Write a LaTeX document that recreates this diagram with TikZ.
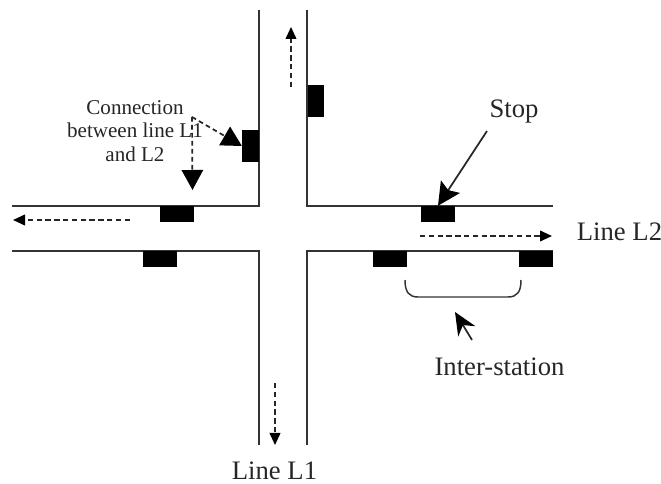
\documentclass[tikz,border=0pt]{standalone}
\usepackage{fontspec}
\setmainfont{Liberation Serif}
\usetikzlibrary{arrows.meta}
\tikzset{
  road/.style={draw=black!80,line width=1.5pt},
  stopbox/.style={fill=black,draw=none,inner sep=0pt,minimum width=25.5pt,minimum height=12pt},
  vstopbox/.style={fill=black,draw=none,inner sep=0pt,minimum width=12.5pt,minimum height=24pt},
  flow/.style={draw=black!85,line width=1.3pt,dash pattern=on 4pt off 2.6pt,-{Triangle[length=9pt,width=8pt,color=black]}},
  bigarrow/.style={draw=black!85,line width=1.3pt,-{Stealth[length=17pt,width=17pt,inset=3pt,color=black]}},
  pointer/.style={draw=black!85,line width=1.3pt,-{Stealth[length=17pt,width=15pt,color=black]}},
  linkdash/.style={draw=black!85,line width=1.3pt,dash pattern=on 3.5pt off 2.5pt,-{Triangle[length=15pt,width=16pt,color=black]}},
  lbl/.style={inner sep=0pt,font=\fontsize{20}{22}\selectfont,text=black!85},
  smalllbl/.style={inner sep=0pt,align=center,font=\fontsize{15.8}{17.6}\selectfont,text=black!85}
}
\begin{document}
\begin{tikzpicture}[x=0.75pt,y=-0.75pt]
\useasboundingbox (0,0) rectangle (661,484);
% roads
\draw[road] (259,10) -- (259,206) -- (12,206);
\draw[road] (307,10) -- (307,206) -- (553,206);
\draw[road] (12,251) -- (259,251) -- (259,445);
\draw[road] (553,251) -- (307,251) -- (307,445);
% stops
\node[stopbox] (s1) at (177,214) {};
\node[stopbox] (s2) at (160,259) {};
\node[stopbox] (s3) at (389.5,259) {};
\node[stopbox] (s4) at (438,214) {};
\node[stopbox] (s5) at (536,259) {};
\node[vstopbox] (v1) at (250.5,146) {};
\node[vstopbox] (v2) at (316,101.5) {};
% labels
\node[lbl] (stoplbl) at (514,112) {Stop};
\node[lbl] (l2) at (619.5,232) {Line L2};
\node[lbl] (l1) at (274.5,471) {Line L1};
\node[lbl] (inter) at (499.5,367) {Inter-station};
\node[smalllbl] (conn) at (135,131) {Connection\\between line L1\\and L2};
% flow directions
\coordinate (upA) at (291,87); \coordinate (upB) at (291,27);
\coordinate (dnA) at (275,383); \coordinate (dnB) at (275,445);
\coordinate (lfA) at (130,220); \coordinate (lfB) at (13,220);
\coordinate (rtA) at (420,236); \coordinate (rtB) at (552,236);
\draw[flow] (upA) -- (upB);
\draw[flow] (dnA) -- (dnB);
\draw[flow] (lfA) -- (lfB);
\draw[flow] (rtA) -- (rtB);
% callouts
\coordinate (stopA) at (487,131);
\draw[bigarrow] (stopA) -- (s4.north);
\coordinate (isA) at (472,340); \coordinate (isB) at (455,312);
\draw[pointer] (isA) -- (isB);
\coordinate (link) at (192,117);
\coordinate (linkEnd) at (192.5,190);
\draw[linkdash] (link) -- (v1.west);
\draw[linkdash] (link) -- (linkEnd);
% inter-station brace
\coordinate (brA) at (405,280); \coordinate (brB) at (521,280);
\draw[draw=black!80,line width=1.1pt] (brA) .. controls (405,292) and (409,297) .. (418,297) -- (508,297) .. controls (517,297) and (521,292) .. (brB);
\end{tikzpicture}
\end{document}
